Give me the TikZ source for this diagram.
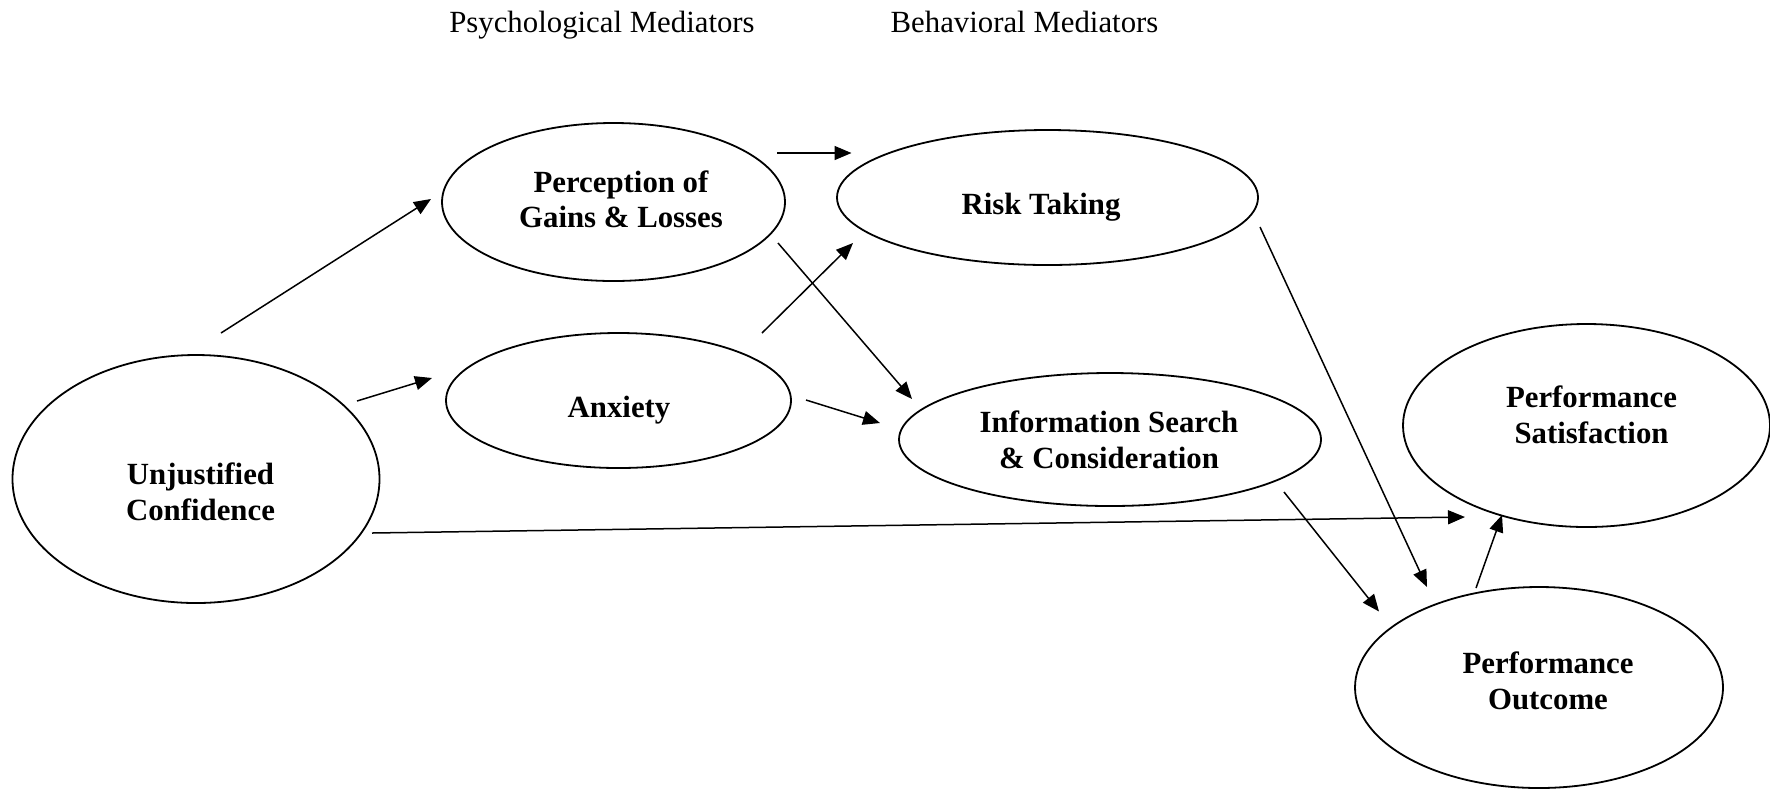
\documentclass[tikz,border=0pt]{standalone}
\usepackage{fontspec}
\setmainfont{Liberation Serif}
\usetikzlibrary{shapes.geometric,arrows.meta}
\begin{document}
\begin{tikzpicture}[x=0.5pt,y=-0.5pt,
  ell/.style={draw,ellipse,line width=0.9pt,inner sep=0pt,outer sep=0pt},
  lbl/.style={font=\fontsize{15.4pt}{17.75pt}\selectfont\bfseries,align=center,inner sep=0pt},
  head/.style={font=\fontsize{15.4pt}{17.75pt}\selectfont,inner sep=0pt,anchor=base},
  arr/.style={line width=0.75pt,-{Triangle[length=8.5pt,width=7pt]}}]
\useasboundingbox (0,0) rectangle (1770,789);

\node[head] (hpsy) at (602,32) {Psychological Mediators};
\node[head] (hbeh) at (1024.5,32) {Behavioral Mediators};

\node[ell,minimum width=183.5pt,minimum height=124pt,label={[lbl,xshift=2.25pt,yshift=-6.5pt]center:Unjustified\\Confidence}] (uc) at (196,479) {};
\node[ell,minimum width=171.5pt,minimum height=79pt,label={[lbl,xshift=3.75pt,yshift=1.25pt]center:Perception of\\Gains \& Losses}] (pg) at (613.5,202) {};
\node[ell,minimum width=172.5pt,minimum height=67.5pt,label={[lbl,xshift=0.25pt,yshift=-4.75pt]center:Anxiety}] (ax) at (618.5,400.5) {};
\node[ell,minimum width=210.5pt,minimum height=67.5pt,label={[lbl,xshift=-3.25pt,yshift=-4.75pt]center:Risk Taking}] (rt) at (1047.5,197.5) {};
\node[ell,minimum width=211pt,minimum height=66.5pt,label={[lbl,xshift=-0.5pt,yshift=-0.25pt]center:Information Search\\\& Consideration}] (is) at (1110,439.5) {};
\node[ell,minimum width=183.5pt,minimum height=101.5pt,label={[lbl,xshift=2.5pt,yshift=5.25pt]center:Performance\\Satisfaction}] (ps) at (1586.5,425.5) {};
\node[ell,minimum width=184pt,minimum height=100.5pt,label={[lbl,xshift=4.5pt,yshift=3.25pt]center:Performance\\Outcome}] (po) at (1539,687.5) {};

\draw[arr] ([shift={(25,-146)}]uc.center) -- ([shift={(-182.5,-3)}]pg.center);
\draw[arr] ([shift={(161,-78)}]uc.center) -- ([shift={(-186.5,-22.5)}]ax.center);
\draw[arr] ([shift={(163.5,-49)}]pg.center) -- ([shift={(-196,-44.5)}]rt.center);
\draw[arr] ([shift={(164.5,41)}]pg.center) -- ([shift={(-198,-40.5)}]is.center);
\draw[arr] ([shift={(143.5,-67.5)}]ax.center) -- ([shift={(-194.5,45.5)}]rt.center);
\draw[arr] ([shift={(187.5,-0.5)}]ax.center) -- ([shift={(-230,-16.5)}]is.center);
\draw[arr] ([shift={(212.5,29.5)}]rt.center) -- ([shift={(-112,-100.5)}]po.center);
\draw[arr] ([shift={(174,52.5)}]is.center) -- ([shift={(-160,-76)}]po.center);
\draw[arr] ([shift={(176,54)}]uc.center) -- ([shift={(-121.5,91.5)}]ps.center);
\draw[arr] ([shift={(-63,-99.5)}]po.center) -- ([shift={(-84.5,89.5)}]ps.center);
\end{tikzpicture}
\end{document}
